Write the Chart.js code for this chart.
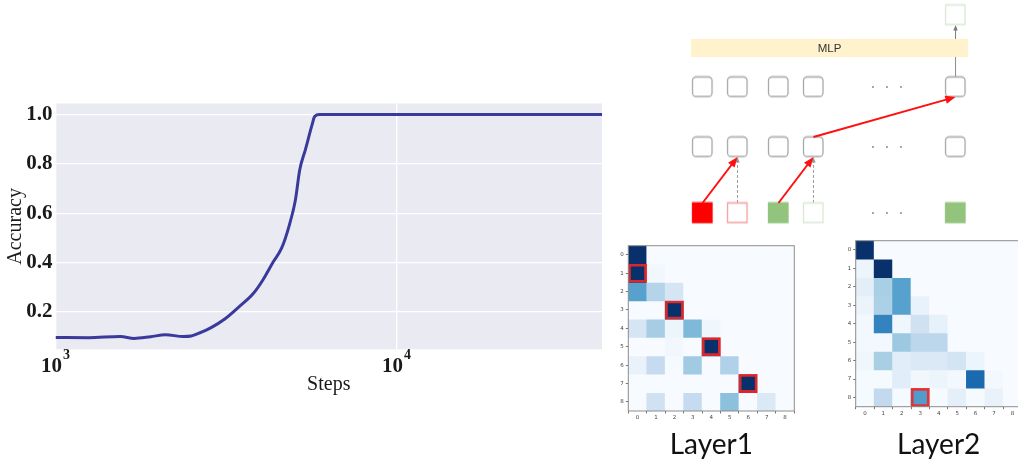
<!DOCTYPE html>
<html>
<head>
<meta charset="utf-8">
<script src="https://cdn.jsdelivr.net/npm/chart.js@4.4.1/dist/chart.umd.min.js"></script>
<style>
  html, body { margin: 0; padding: 0; background: #fff; }
  body { width: 1018px; height: 465px; overflow: hidden; position: relative; }
  canvas { position: absolute; }
</style>
</head>
<body>
<canvas id="accChart" width="610" height="465" style="left:0;top:0"></canvas>
<canvas id="diagChart" width="408" height="235" style="left:610px;top:0"></canvas>
<canvas id="layer1Chart" width="210" height="230" style="left:600px;top:235px"></canvas>
<canvas id="layer2Chart" width="210" height="230" style="left:830px;top:235px"></canvas>
<script>
// accuracy curve
const steps = [1000, 1250, 1550, 1700, 1900, 2100, 2370, 2500, 2650, 2850, 3150, 3450, 3800, 4050, 4350, 4600, 4850, 5050, 5200, 5400, 5650, 5750, 5950, 6500, 10000, 20000, 40000];
const accuracy = [0.096, 0.095, 0.100, 0.092, 0.099, 0.107, 0.100, 0.102, 0.115, 0.135, 0.173, 0.220, 0.274, 0.328, 0.403, 0.458, 0.553, 0.654, 0.776, 0.857, 0.958, 0.992, 1.0, 1.0, 1.0, 1.0, 1.0];
const stepTicks = [1000, 10000];
const stepTickBase = ['10', '10'];
const stepTickExp = ['3', '4'];
const accTicks = [0.2, 0.4, 0.6, 0.8, 1.0];

// attention maps (rows = query, cols = key)
const cells = ['0', '1', '2', '3', '4', '5', '6', '7', '8'];
const layer1 = [
  [1.00, 0, 0, 0, 0, 0, 0, 0, 0],
  [1.00, 0.03, 0, 0, 0, 0, 0, 0, 0],
  [0.56, 0.30, 0.17, 0, 0, 0, 0, 0, 0],
  [0, 0, 1.00, 0, 0, 0, 0, 0, 0],
  [0.17, 0.35, 0.05, 0.45, 0.04, 0, 0, 0, 0],
  [0, 0, 0.03, 0, 1.00, 0, 0, 0, 0],
  [0.07, 0.25, 0.01, 0.37, 0, 0.32, 0, 0, 0],
  [0, 0, 0, 0, 0, 0, 1.00, 0, 0],
  [0, 0.20, 0, 0.25, 0, 0.42, 0, 0.14, 0]
];
const layer2 = [
  [1.00, 0, 0, 0, 0, 0, 0, 0, 0],
  [0.05, 1.00, 0, 0, 0, 0, 0, 0, 0],
  [0.10, 0.34, 0.56, 0, 0, 0, 0, 0, 0],
  [0.06, 0.33, 0.56, 0.07, 0, 0, 0, 0, 0],
  [0.02, 0.68, 0.04, 0.20, 0.08, 0, 0, 0, 0],
  [0.02, 0.02, 0.38, 0.28, 0.28, 0, 0, 0, 0],
  [0.04, 0.34, 0.11, 0.14, 0.14, 0.18, 0.05, 0, 0],
  [0.01, 0.01, 0.11, 0.035, 0.05, 0.02, 0.78, 0.02, 0],
  [0.01, 0.26, 0.01, 0.58, 0.01, 0.09, 0.01, 0.07, 0]
];
const layer1Marks = [[1, 0], [3, 2], [5, 4], [7, 6]]; // [row, col]
const layer2Marks = [[8, 3]];

// diagram: token columns and layer levels
const tokenCols = [0, 1, 2.17, 3.17, 7.23];
const dotCols = [4.87, 5.27, 5.67];
const levelInput = 0, levelL1 = 1.1, levelL2 = 2.1, levelMlp = 2.75, levelOut = 3.3;
const mlpSpan = [-0.33, 7.59];
const inputFill = ['#ff0000', '#ffffff', '#93c47d', '#ffffff', '#93c47d'];
const inputEdge = ['#ff0000', '#f4a0a0', '#93c47d', '#d9ead3', '#93c47d'];
const redLinks = [[0, levelInput, 1, levelL1], [2, levelInput, 3, levelL1], [3, levelL1, 4, levelL2]];
const dashLinks = [[1, levelInput, 1, levelL1], [3, levelInput, 3, levelL1]];

const serif = 'Liberation Serif, Times New Roman, serif';

// matplotlib Blues
const bluesStops = ['#f7fbff', '#deebf7', '#c6dbef', '#9ecae1', '#6baed6', '#4292c6', '#2171b5', '#08519c', '#08306b'];
function blues(v) {
  const t = Math.max(0, Math.min(1, v)) * (bluesStops.length - 1);
  const i = Math.min(Math.floor(t), bluesStops.length - 2);
  const f = t - i;
  const a = bluesStops[i], b = bluesStops[i + 1];
  const ch = k => {
    const p = parseInt(a.substr(1 + 2 * k, 2), 16), q = parseInt(b.substr(1 + 2 * k, 2), 16);
    return Math.round(p + (q - p) * f);
  };
  return 'rgb(' + ch(0) + ',' + ch(1) + ',' + ch(2) + ')';
}

// grey plot background like seaborn
const plotBackground = {
  id: 'plotBackground',
  beforeDraw(chart) {
    const { ctx, chartArea: a } = chart;
    ctx.save();
    ctx.fillStyle = '#eaeaf2';
    ctx.fillRect(a.left, a.top, a.right - a.left, a.bottom - a.top);
    ctx.restore();
  }
};

// log tick labels with a real superscript
const powerLabels = {
  id: 'powerLabels',
  afterDraw(chart) {
    const { ctx, scales: { x } } = chart;
    const baseY = x.top + 22.5;
    ctx.save();
    ctx.fillStyle = '#1a1a1a';
    ctx.textBaseline = 'alphabetic';
    ctx.textAlign = 'left';
    stepTicks.forEach((v, i) => {
      const px = x.getPixelForValue(v);
      ctx.font = 'bold 21px ' + serif;
      const wb = ctx.measureText(stepTickBase[i]).width;
      ctx.font = 'bold 14px ' + serif;
      const we = ctx.measureText(stepTickExp[i]).width;
      const x0 = px - (wb + we + 1) / 2;
      ctx.font = 'bold 21px ' + serif;
      ctx.fillText(stepTickBase[i], x0, baseY);
      ctx.font = 'bold 14px ' + serif;
      ctx.fillText(stepTickExp[i], x0 + wb + 1, baseY - 13);
    });
    ctx.restore();
  }
};

new Chart(document.getElementById('accChart'), {
  type: 'line',
  data: {
    datasets: [{
      data: steps.map((s, i) => ({ x: s, y: accuracy[i] })),
      borderColor: '#3a3a9c',
      borderWidth: 3,
      pointRadius: 0,
      cubicInterpolationMode: 'monotone',
      fill: false
    }]
  },
  options: {
    responsive: false,
    animation: false,
    events: [],
    layout: { autoPadding: false, padding: { left: 0, right: 8, top: 103.5, bottom: 60 } },
    plugins: { legend: { display: false }, tooltip: { enabled: false } },
    scales: {
      x: {
        type: 'logarithmic',
        min: 1000,
        max: 40000,
        afterBuildTicks: s => { s.ticks = stepTicks.map(v => ({ value: v })); },
        afterFit: s => { s.height = 55.7; },
        ticks: { display: false },
        grid: { color: '#ffffff', lineWidth: 1.3, drawTicks: false },
        border: { display: false },
        title: {
          display: true,
          text: 'Steps',
          color: '#1a1a1a',
          font: { family: serif, size: 20 },
          padding: { top: 0, bottom: 8 }
        }
      },
      y: {
        min: 0.048,
        max: 1.045,
        afterBuildTicks: s => { s.ticks = accTicks.map(v => ({ value: v })); },
        afterFit: s => { s.width = 55.5; },
        ticks: {
          padding: 3,
          color: '#1a1a1a',
          font: { family: serif, size: 21, weight: 'bold' },
          callback: v => v.toFixed(1)
        },
        grid: { color: '#ffffff', lineWidth: 1.3, drawTicks: false },
        border: { display: false },
        title: {
          display: true,
          text: 'Accuracy',
          color: '#1a1a1a',
          font: { family: serif, size: 20 },
          padding: { top: 4, bottom: 0 }
        }
      }
    }
  },
  plugins: [plotBackground, powerLabels]
});

// ---- diagram ----
function boxImage(fill, edge, radius) {
  const c = document.createElement('canvas');
  c.width = 23; c.height = 23;
  const g = c.getContext('2d');
  g.beginPath();
  if (radius > 0) g.roundRect(1.5, 1.5, 19.5, 19.5, radius);
  else g.rect(1.5, 1.5, 19.5, 19.5);
  g.fillStyle = fill;
  g.fill();
  g.lineWidth = 1.3;
  g.strokeStyle = edge;
  g.stroke();
  return c;
}
const hiddenBox = boxImage('#ffffff', '#a8a8a8', 3.5);
const outBox = boxImage('#ffffff', '#d9ead3', 0);
const inputBoxes = inputFill.map((f, i) => boxImage(f, inputEdge[i], 0));

function drawArrow(ctx, x0, y0, x1, y1, color, width, head, dash) {
  const ang = Math.atan2(y1 - y0, x1 - x0);
  ctx.save();
  ctx.strokeStyle = color;
  ctx.fillStyle = color;
  ctx.lineWidth = width;
  ctx.setLineDash(dash || []);
  ctx.beginPath();
  ctx.moveTo(x0, y0);
  ctx.lineTo(x1 - Math.cos(ang) * head * 0.8, y1 - Math.sin(ang) * head * 0.8);
  ctx.stroke();
  ctx.setLineDash([]);
  if (head > 0) {
    ctx.beginPath();
    ctx.moveTo(x1, y1);
    ctx.lineTo(x1 - head * Math.cos(ang - 0.38), y1 - head * Math.sin(ang - 0.38));
    ctx.lineTo(x1 - head * Math.cos(ang + 0.38), y1 - head * Math.sin(ang + 0.38));
    ctx.closePath();
    ctx.fill();
  }
  ctx.restore();
}

const diagramLinks = {
  id: 'diagramLinks',
  beforeDatasetsDraw(chart) {
    const { ctx, scales: { x, y } } = chart;
    const half = 10;
    // MLP block
    const my = y.getPixelForValue(levelMlp);
    const mx0 = x.getPixelForValue(mlpSpan[0]), mx1 = x.getPixelForValue(mlpSpan[1]);
    ctx.save();
    ctx.fillStyle = '#fff2cc';
    ctx.fillRect(mx0, my - 9, mx1 - mx0, 18);
    ctx.fillStyle = '#333';
    ctx.font = '11.5px "Liberation Sans", Arial, sans-serif';
    ctx.textAlign = 'center';
    ctx.textBaseline = 'middle';
    ctx.fillText('MLP', (mx0 + mx1) / 2, my + 0.5);
    ctx.restore();
    // last token path through MLP
    const lx = x.getPixelForValue(tokenCols[4]);
    drawArrow(ctx, lx, y.getPixelForValue(levelL2) - half, lx, my + 9, '#8a8a8a', 1, 0);
    drawArrow(ctx, lx, my - 9, lx, y.getPixelForValue(levelOut) + half, '#7a7a7a', 1, 6);
    // residual (dashed) links
    dashLinks.forEach(([c0, l0, c1, l1]) => {
      drawArrow(ctx, x.getPixelForValue(tokenCols[c0]), y.getPixelForValue(l0) - half,
        x.getPixelForValue(tokenCols[c1]), y.getPixelForValue(l1) + half, '#9a9a9a', 1, 6, [3, 2]);
    });
  },
  afterDatasetsDraw(chart) {
    const { ctx, scales: { x, y } } = chart;
    const half = 10;
    redLinks.forEach(([c0, l0, c1, l1]) => {
      drawArrow(ctx, x.getPixelForValue(tokenCols[c0]), y.getPixelForValue(l0) - half,
        x.getPixelForValue(tokenCols[c1]), y.getPixelForValue(l1) + half, '#ff1010', 2, 11);
    });
  }
};

const hiddenPts = [];
[levelL1, levelL2].forEach(l => tokenCols.forEach(c => hiddenPts.push({ x: c, y: l })));
const dotPts = [];
[levelInput, levelL1, levelL2].forEach(l => dotCols.forEach(c => dotPts.push({ x: c, y: l })));

new Chart(document.getElementById('diagChart'), {
  type: 'scatter',
  data: {
    datasets: [
      { data: hiddenPts, pointStyle: hiddenBox },
      { data: tokenCols.map(c => ({ x: c, y: levelInput })), pointStyle: inputBoxes },
      { data: [{ x: tokenCols[4], y: levelOut }], pointStyle: outBox },
      { data: dotPts, pointStyle: 'circle', pointRadius: 1, backgroundColor: '#8a8a8a', borderWidth: 0 }
    ]
  },
  options: {
    responsive: false,
    animation: false,
    events: [],
    layout: { autoPadding: false, padding: 0 },
    plugins: { legend: { display: false }, tooltip: { enabled: false } },
    scales: {
      x: { type: 'linear', min: -2.643, max: 9.014, display: false },
      y: { type: 'linear', min: -0.367, max: 3.55, display: false }
    }
  },
  plugins: [diagramLinks]
});

// ---- attention heatmaps ----
const frameBox = {
  id: 'frameBox',
  afterDraw(chart) {
    const { ctx, chartArea: a } = chart;
    ctx.save();
    ctx.strokeStyle = '#8c8c8c';
    ctx.lineWidth = 1;
    ctx.strokeRect(a.left, a.top, a.right - a.left, a.bottom - a.top);
    ctx.restore();
  }
};

function heatmap(id, matrix, marks, title, pad, yWidth, xHeight) {
  // highlighted cells first: Chart.js paints dataset 0 on top
  const sets = [{
    data: cells.map((_, c) => {
      const m = marks.find(mk => mk[1] === c);
      return m ? [m[0] - 0.5, m[0] + 0.5] : null;
    }),
    backgroundColor: 'rgba(0,0,0,0)',
    borderColor: 'rgba(240,40,40,0.9)',
    borderWidth: 2.2,
    borderSkipped: false,
    grouped: false,
    barPercentage: 1,
    categoryPercentage: 1
  }];
  matrix.forEach((row, r) => sets.push({
    data: row.map(() => [r - 0.5, r + 0.5]),
    backgroundColor: row.map(v => blues(v)),
    borderWidth: 0,
    grouped: false,
    barPercentage: 1,
    categoryPercentage: 1
  }));
  const tickFont = { family: 'DejaVu Sans, sans-serif', size: 5.5 };
  new Chart(document.getElementById(id), {
    type: 'bar',
    data: { labels: cells, datasets: sets },
    options: {
      responsive: false,
      animation: false,
      events: [],
      layout: { autoPadding: false, padding: pad },
      plugins: { legend: { display: false }, tooltip: { enabled: false } },
      scales: {
        x: {
          afterFit: s => { s.height = xHeight; },
          ticks: { color: '#444', font: tickFont, padding: 1, maxRotation: 0, autoSkip: false },
          grid: { drawOnChartArea: false, drawTicks: true, tickLength: 2.5, color: '#777' },
          border: { display: false },
          title: {
            display: true,
            text: title,
            color: '#111',
            font: { family: 'Lato, "Open Sans", sans-serif', size: 28 },
            padding: { top: 0, bottom: 3 }
          }
        },
        y: {
          min: -0.5,
          max: 8.5,
          reverse: true,
          afterBuildTicks: s => { s.ticks = cells.map((_, i) => ({ value: i })); },
          afterFit: s => { s.width = yWidth; },
          ticks: { color: '#444', font: tickFont, padding: 2, callback: v => cells[v] },
          grid: { drawOnChartArea: false, drawTicks: true, tickLength: 2.5, color: '#777' },
          border: { display: false }
        }
      }
    },
    plugins: [frameBox]
  });
}

heatmap('layer1Chart', layer1, layer1Marks, 'Layer1', { left: 0, right: 15.7, top: 10.7, bottom: 0 }, 28.3, 54);
heatmap('layer2Chart', layer2, layer2Marks, 'Layer2', { left: 0, right: 18.3, top: 5.7, bottom: 0 }, 25.7, 58.3);
</script>
</body>
</html>
